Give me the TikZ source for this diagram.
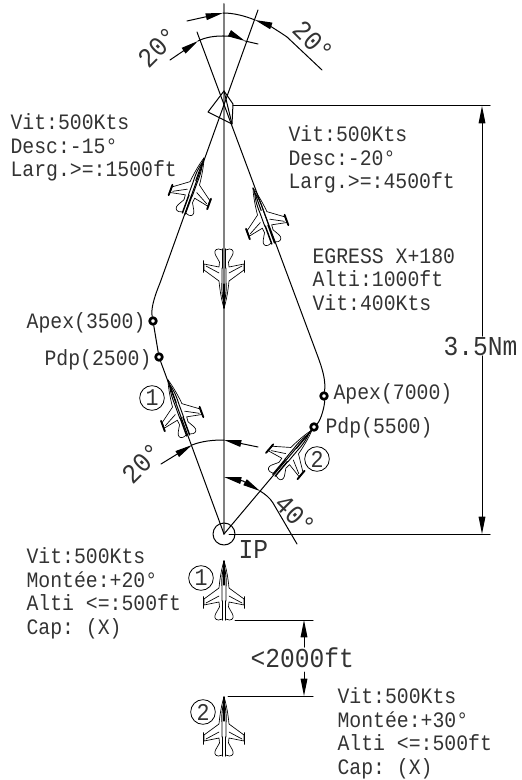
\documentclass[tikz,border=0pt]{standalone}
\usepackage{fontspec}
\setmonofont[FakeStretch=.9]{Liberation Mono}
\usetikzlibrary{arrows.meta}
\tikzset{
	jet/.pic={
		\foreach \s in {-1,1}{
			\begin{scope}[xscale=\s]
				\draw[line width=.5] (0,0) .. controls (2,6) and (4,16) .. (5,27) -- (20,38) -- (20,44) -- (5,41) -- (4.5,46) -- (8.5,53) .. controls (10,56) and (9,59) .. (5.5,59) -- (1.5,58);
				\draw[line width=1.4] (20.5,36) -- (20.5,47);
				\draw[line width=.5] (5,35) -- (18,42);
				\draw[line width=.7] (0,5) .. controls (1.5,10) and (2.5,16) .. (2,26) -- (2,40);
				\draw[line width=1.1] (1.5,40) -- (1.5,59);
			\end{scope}
		}
		\draw[line width=.8] (0,0) -- (0,24);
	},
	lbl/.style={font=\ttfamily\fontsize{16.5}{17.8}\selectfont, text=black!80, inner sep=0pt, align=left},
	biglbl/.style={font=\ttfamily\fontsize{20.5}{22}\selectfont, text=black!80, inner sep=0pt},
	wpt/.style={circle, draw, line width=2, inner sep=0pt, minimum size=5},
	numc/.style={circle, draw, line width=.6, inner sep=0pt, minimum size=18.5, font=\ttfamily\fontsize{18}{18}\selectfont, text=black!80}
}
\begin{document}
\begin{tikzpicture}[x=.75pt, y=-.75pt, line join=round, line cap=round, >={Triangle[length=13pt,width=5pt]}, line width=.75]
	\useasboundingbox (0,0) rectangle (521,780);
	\coordinate (ip) at (224,534);
	\coordinate (tgt) at (224,106);
	% axe central
	\draw[gray, line width=1.5] (224,4) -- (ip);
	% cible
	\draw (224,91) -- (233,104) -- (232,124) -- (208,112) -- cycle;
	\draw (224,91) -- (232,124);
	% points
	\node[wpt] (apexa) at (153,321) {};
	\node[wpt] (pdpa) at (159,357) {};
	\node[wpt] (apexb) at (324,396) {};
	\node[wpt] (pdpb) at (314,427) {};
	% trajectoires
	\draw (ip) -- (pdpa) -- (apexa) .. controls (151,310) and (153,300) .. (160,283) -- (258,10);
	\draw (ip) -- (pdpb) .. controls (321,420) and (325,405) .. (apexb) .. controls (326,380) and (322,368) .. (318,357) -- (197,32);
	% avions
	\foreach \nx/\ny/\rot in {204/158/-20, 253/188/20, 224/308/180, 168/380/20, 312/430/-40, 224/561/0, 224/697/0}
	\pic[rotate=\rot] at (\nx,\ny) {jet};
	% IP
	\node[circle, draw, inner sep=0pt, minimum size=16.5] (ipc) at (ip) {};
	\node[biglbl, anchor=base west] (iplbl) at (238,558) {IP};
	% cotes verticales
	\coordinate (dimtop) at (482,106);
	\coordinate (dimbot) at (482,534);
	\draw (233,106) -- (490,106);
	\draw (229,534) -- (490,534);
	\node[biglbl, anchor=base west] (nm) at (443,355) {3.5Nm};
	\draw[->] (nm.north -| dimtop) -- (dimtop);
	\draw[->] (nm.south -| dimbot) -- (dimbot);
	% separation
	\coordinate (sepa) at (304,620);
	\coordinate (sepb) at (304,696);
	\draw (235,620) -- (313,620);
	\draw (228,696) -- (313,696);
	\node[biglbl, anchor=base west] (sep) at (250,667) {<2000ft};
	\draw[->] (304,647) -- (sepa);
	\draw[->] (304,672) -- (sepb);
	% angles haut
	\draw[->] (170,60) -- (198,41);
	\draw (198,41) .. controls (206,37) and (215,36) .. (223,36);
	\draw[->] (223,36) .. controls (230,36) and (237,37) .. (245,41);
	\draw (245,41) -- (258,44);
	\draw[->] (187,21) -- (223,13);
	\draw (223,13) .. controls (234,13) and (245,16) .. (255,20);
	\draw[->] (287,37) .. controls (277,30) and (266,24) .. (255,20);
	\draw (287,37) -- (322,70);
	\node[biglbl, rotate=45] (anga) at (158,47) {20°};
	\node[biglbl, rotate=-45] (angb) at (313,41) {20°};
	% angles bas
	\draw[->] (161,464) -- (192,445);
	\draw (192,445) .. controls (202,441) and (213,440) .. (224,440);
	\draw[->] (258,447) -- (224,440);
	\draw[->] (243,481) -- (224,477);
	\draw[->] (243,481) -- (260,491);
	\draw (260,491) .. controls (265,494) and (270,498) .. (273,503) -- (297,544);
	\node[biglbl, rotate=45] (angc) at (142,463) {20°};
	\node[biglbl, rotate=-45] (angd) at (295,515) {40°};
	% numeros
	\node[numc] (na) at (152,398) {1};
	\node[numc] (nb) at (317,459) {2};
	\node[numc] (nc) at (201,578) {1};
	\node[numc] (nd) at (203,712) {2};
	% textes
	\node[lbl, anchor=north west] (ta) at (10,113) {Vit:500Kts\\Desc:-15°\\Larg.>=:1500ft};
	\node[lbl, anchor=north west] (tb) at (288,125) {Vit:500Kts\\Desc:-20°\\Larg.>=:4500ft};
	\node[lbl, anchor=north west] (tc) at (312,248) {EGRESS X+180\\Alti:1000ft\\Vit:400Kts};
	\node[lbl, anchor=north west] (td) at (26,547) {Vit:500Kts\\Montée:+20°\\Alti <=:500ft\\Cap: (X)};
	\node[lbl, anchor=north west] (te) at (337,687) {Vit:500Kts\\Montée:+30°\\Alti <=:500ft\\Cap: (X)};
	\node[lbl, anchor=base east] (la) at (146,328) {Apex(3500)};
	\node[lbl, anchor=base east] (lb) at (152,365) {Pdp(2500)};
	\node[lbl, anchor=base west] (lc) at (333,399) {Apex(7000)};
	\node[lbl, anchor=base west] (ld) at (325,433) {Pdp(5500)};
\end{tikzpicture}
\end{document}
